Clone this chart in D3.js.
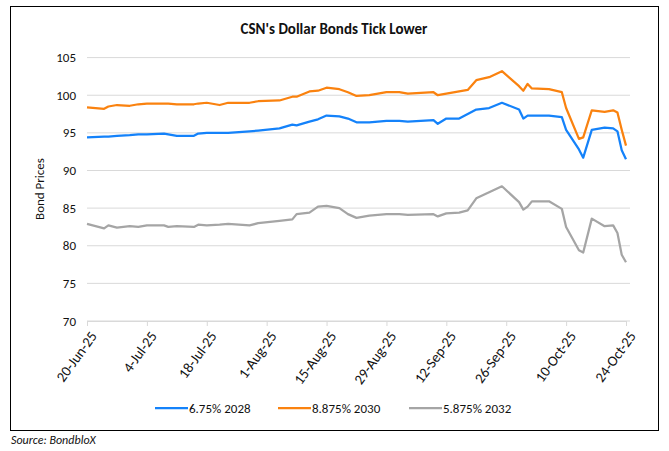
<!DOCTYPE html>
<html>
<head>
<meta charset="utf-8">
<script src="https://cdn.jsdelivr.net/npm/d3@7"></script>
<style>
  body { margin: 0; background: #fff; }
  svg text { font-family: Carlito, Lato, 'Liberation Sans', sans-serif; fill: #111; }
</style>
</head>
<body>
<svg id="chart"></svg>
<script>
// data
const dates = ['2025-06-20','2025-06-24','2025-06-25','2025-06-27','2025-06-30','2025-07-02','2025-07-04',
  '2025-07-08','2025-07-09','2025-07-11','2025-07-15','2025-07-16','2025-07-18','2025-07-21','2025-07-23',
  '2025-07-28','2025-07-30','2025-08-04','2025-08-07','2025-08-08','2025-08-11','2025-08-13','2025-08-15',
  '2025-08-18','2025-08-20','2025-08-22','2025-08-25','2025-08-29','2025-09-01','2025-09-03','2025-09-09',
  '2025-09-10','2025-09-12','2025-09-15','2025-09-17','2025-09-19','2025-09-22','2025-09-25','2025-09-29',
  '2025-09-30','2025-10-01','2025-10-02','2025-10-06','2025-10-09','2025-10-10','2025-10-13','2025-10-14',
  '2025-10-16','2025-10-19','2025-10-21','2025-10-22','2025-10-23','2025-10-24']
const bond2028 = [94.4,94.5,94.5,94.6,94.7,94.8,94.8,94.9,94.8,94.6,94.6,94.9,95.0,95.0,95.0,95.2,95.3,95.6,
  96.1,96.0,96.5,96.8,97.3,97.2,96.9,96.4,96.4,96.6,96.6,96.5,96.7,96.2,96.9,96.9,97.5,98.1,98.3,99.0,98.1,
  96.9,97.3,97.3,97.3,97.1,95.4,92.8,91.7,95.4,95.7,95.6,95.2,92.7,91.5]
const bond2030 = [98.4,98.2,98.5,98.7,98.6,98.8,98.9,98.9,98.9,98.8,98.8,98.9,99.0,98.7,99.0,99.0,99.2,99.3,
  99.8,99.8,100.5,100.6,101.0,100.8,100.4,99.9,100.0,100.4,100.4,100.2,100.4,100.0,100.2,100.5,100.7,102.0,
  102.4,103.2,101.2,100.6,101.5,100.9,100.8,100.4,98.3,94.2,94.4,98.0,97.8,98.0,97.7,95.4,93.3]
const bond2032 = [82.9,82.3,82.7,82.4,82.6,82.5,82.7,82.7,82.5,82.6,82.5,82.8,82.7,82.8,82.9,82.7,83.0,83.3,
  83.5,84.2,84.4,85.2,85.3,85.0,84.2,83.7,84.0,84.2,84.2,84.1,84.2,83.9,84.3,84.4,84.7,86.3,87.1,87.9,85.8,
  84.8,85.2,85.9,85.9,84.9,82.5,79.4,79.1,83.6,82.6,82.7,81.7,78.8,77.8]
const seriesNames = ['6.75% 2028', '8.875% 2030', '5.875% 2032']
const seriesColors = ['#1482fa', '#fa820f', '#a5a5a5']
const yTicks = [70, 75, 80, 85, 90, 95, 100, 105]

const width = 669, height = 451
const margin = { top: 57.6, right: 43, bottom: 130, left: 87 }
const parse = d3.timeParse('%Y-%m-%d')
const fmt = d => d.getDate() + '-' + d3.timeFormat('%b-%y')(d)

const svg = d3.select('#chart').attr('width', width).attr('height', height)

// outer frame
svg.append('rect')
  .attr('x', 10.5).attr('y', 6.5).attr('width', 648).attr('height', 424)
  .attr('fill', 'none').attr('stroke', '#000').attr('stroke-width', 1)

const x = d3.scaleTime()
  .domain([parse(dates[0]), parse(dates[dates.length - 1])])
  .range([margin.left, width - margin.right])
const y = d3.scaleLinear()
  .domain([70, 105])
  .range([height - margin.bottom, margin.top])

// gridlines
svg.append('g')
  .selectAll('line')
  .data(yTicks)
  .enter()
  .append('line')
  .attr('x1', margin.left).attr('x2', width - margin.right + 4)
  .attr('y1', d => y(d)).attr('y2', d => y(d))
  .attr('stroke', '#d9d9d9').attr('stroke-width', 1)

// y labels
svg.append('g')
  .selectAll('text')
  .data(yTicks)
  .enter()
  .append('text')
  .attr('x', 76).attr('y', d => y(d))
  .attr('dy', '0.35em')
  .attr('text-anchor', 'end')
  .attr('font-size', 13)
  .text(d => d)

// x axis
const xTicks = d3.range(10).map(i => d3.timeDay.offset(parse(dates[0]), i * 14))
const xAxis = svg.append('g')
  .attr('transform', 'translate(0,' + y(70) + ')')
  .call(d3.axisBottom(x).tickValues(xTicks).tickFormat(fmt).tickSize(5).tickSizeOuter(0))
xAxis.select('.domain').attr('stroke', '#d9d9d9')
xAxis.selectAll('.tick line').attr('stroke', '#d9d9d9')
xAxis.selectAll('.tick text')
  .attr('font-size', 14.5)
  .attr('text-anchor', 'end')
  .attr('transform', 'translate(6,12) rotate(-54)')
  .attr('dy', '0.35em')
  .attr('y', 0)

// y title
svg.append('text')
  .attr('transform', 'translate(44,189) rotate(-90)')
  .attr('text-anchor', 'middle')
  .attr('font-size', 13)
  .text('Bond Prices')

// lines
const allSeries = [bond2028, bond2030, bond2032]
const line = d3.line()
  .x((d, i) => x(parse(dates[i])))
  .y(d => y(d))
allSeries.forEach((vals, k) => {
  svg.append('path')
    .datum(vals)
    .attr('fill', 'none')
    .attr('stroke', seriesColors[k])
    .attr('stroke-width', 2.25)
    .attr('stroke-linejoin', 'round')
    .attr('d', line)
})

// title
svg.append('text')
  .attr('x', 334).attr('y', 34)
  .attr('text-anchor', 'middle')
  .attr('font-size', 15)
  .attr('font-weight', 'bold')
  .text("CSN's Dollar Bonds Tick Lower")

// legend
const legendX = [155, 278, 409]
const legend = svg.append('g')
  .selectAll('g')
  .data(seriesNames)
  .enter()
  .append('g')
  .attr('transform', (d, i) => 'translate(' + legendX[i] + ',408)')
legend.append('line')
  .attr('x1', 0).attr('x2', 33)
  .attr('stroke', (d, i) => seriesColors[i]).attr('stroke-width', 2.25)
legend.append('text')
  .attr('x', 34).attr('dy', '0.35em')
  .attr('font-size', 13)
  .text(d => d)

// source
svg.append('text')
  .attr('x', 11).attr('y', 444)
  .attr('font-size', 12)
  .attr('font-style', 'italic')
  .text('Source: BondbloX')
</script>
</body>
</html>
